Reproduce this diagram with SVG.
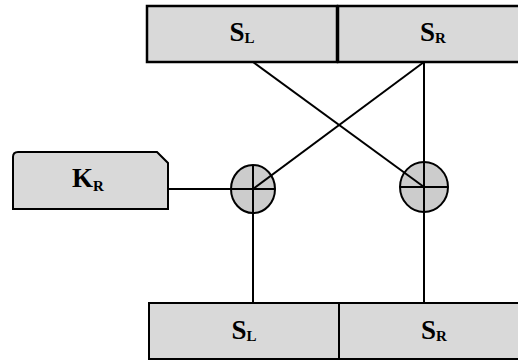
<svg xmlns="http://www.w3.org/2000/svg" width="518" height="361" viewBox="0 0 518 361">
<style>
.box{fill:#d9d9d9;stroke:#000;stroke-width:2.5}
.box2{fill:#d9d9d9;stroke:#000;stroke-width:2}
.xor{fill:#cccccc;stroke:#000;stroke-width:2}
.ln{stroke:#000;stroke-width:2;fill:none}
.t{font-family:"Liberation Serif",serif;font-weight:bold;font-size:27px;fill:#000}
.s{font-size:15px}
</style>
<rect width="518" height="361" fill="#fff"/>
<g id="top-SL">
<rect class="box" x="147" y="6" width="190" height="56"/>
<text class="t" x="242" y="41" text-anchor="middle">S<tspan class="s" dy="2">L</tspan></text>
</g>
<g id="top-SR">
<rect class="box" x="338" y="6" width="190" height="56"/>
<text class="t" x="433" y="41" text-anchor="middle">S<tspan class="s" dy="2">R</tspan></text>
</g>
<g id="KR">
<path class="box2" d="M13,157 Q13,152 18,152 L157,152 L168,163 L168,209 L13,209 Z"/>
<text class="t" x="88" y="187" text-anchor="middle">K<tspan class="s" dy="4">R</tspan></text>
</g>
<g id="xor-left">
<ellipse class="xor" cx="253" cy="189" rx="22" ry="24"/>
<path class="ln" d="M231,189 H275 M253,165 V213"/>
</g>
<g id="xor-right">
<ellipse class="xor" cx="424" cy="187" rx="24" ry="25"/>
<path class="ln" d="M400,187 H448 M424,162 V212"/>
</g>
<g id="bot-SL">
<rect class="box2" x="149" y="303" width="190" height="56"/>
<text class="t" x="244" y="339" text-anchor="middle">S<tspan class="s" dy="2">L</tspan></text>
</g>
<g id="bot-SR">
<rect class="box2" x="339" y="303" width="190" height="56"/>
<text class="t" x="434" y="339" text-anchor="middle">S<tspan class="s" dy="2">R</tspan></text>
</g>
<g id="connectors">
<line class="ln" x1="253" y1="62" x2="424" y2="187"/>
<line class="ln" x1="424" y1="62" x2="253" y2="189"/>
<line class="ln" x1="424" y1="62" x2="424" y2="303"/>
<line class="ln" x1="253" y1="213" x2="253" y2="303"/>
<line class="ln" x1="168" y1="189" x2="231" y2="189"/>
</g>
</svg>
